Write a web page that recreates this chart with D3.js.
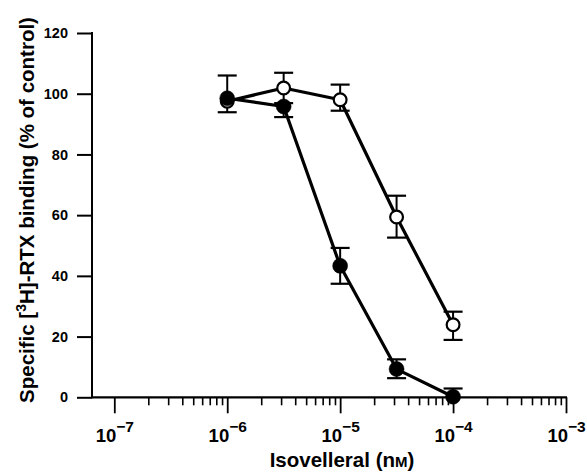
<!DOCTYPE html>
<html>
<head>
<meta charset="utf-8">
<script src="https://cdn.jsdelivr.net/npm/d3@7"></script>
<style>
  html, body { margin: 0; padding: 0; background: #fff; }
  svg { display: block; }
</style>
</head>
<body>
<svg id="chart" width="587" height="472"></svg>
<script>
// ---- data ----
const concentrations = [1e-6, 3.16e-6, 1e-5, 3.16e-5, 1e-4];
const filledValues   = [98.5, 95.8, 43.3, 9.3, 0.2];
const filledErrUp    = [7.5, 0, 5.9, 3.2, 2.7];
const filledErrDown  = [0, 3.5, 5.9, 3.0, 0];
const openValues     = [97.5, 101.9, 98, 59.4, 23.9];
const openErrUp      = [0, 5.0, 5.0, 7.0, 4.3];
const openErrDown    = [3.6, 5.0, 3.6, 6.8, 5.0];
const yTicks = [0, 20, 40, 60, 80, 100, 120];
const xMajorExponents = [-7, -6, -5, -4, -3];
const xMinorMultipliers = [2, 3, 4, 5, 6, 7, 8, 9];
const yTitleMain = ["Specific [", "3", "H]-RTX binding (% of control)"];
const xTitleParts = ["Isovelleral (n", "M", ")"];

// ---- layout ----
const svg = d3.select("#chart");
const plotLeft = 92, plotTop = 33, plotBottom = 397.3;
const x = d3.scaleLog().domain([1e-7, 1e-3]).range([114.3, 566]);
const y = d3.scaleLinear().domain([0, 120]).range([plotBottom, plotTop]);

const font = "'Liberation Sans', Arial, Helvetica, sans-serif";
const narrow = "'Liberation Sans Narrow', 'Liberation Sans', Arial, sans-serif";

// y axis
const yAxis = d3.axisLeft(y).tickValues(yTicks).tickSize(15).tickPadding(9).tickFormat(d3.format("d"));
const gy = svg.append("g").attr("transform", `translate(${plotLeft},0)`).call(yAxis);
gy.select(".domain").remove();
gy.selectAll(".tick line").attr("stroke", "#000").attr("stroke-width", 2);
gy.selectAll(".tick text").attr("font-family", font).attr("font-weight", "bold").attr("font-size", 14.5).attr("fill", "#000");
svg.append("line").attr("x1", plotLeft).attr("x2", plotLeft).attr("y1", y(120) - 1).attr("y2", plotBottom + 1)
  .attr("stroke", "#000").attr("stroke-width", 2);

// x axis
const majors = xMajorExponents.map(e => Math.pow(10, e));
const minors = [];
xMajorExponents.slice(0, -1).forEach(e => xMinorMultipliers.forEach(m => minors.push(m * Math.pow(10, e))));

svg.append("line").attr("x1", plotLeft).attr("x2", x(1e-3) + 1).attr("y1", plotBottom).attr("y2", plotBottom)
  .attr("stroke", "#000").attr("stroke-width", 2.2);

const gxMinor = svg.append("g").attr("transform", `translate(0,${plotBottom})`)
  .call(d3.axisBottom(x).tickValues(minors).tickSize(8).tickFormat(""));
gxMinor.select(".domain").remove();
gxMinor.selectAll(".tick line").attr("stroke", "#000").attr("stroke-width", 1.6);

const gxMajor = svg.append("g").attr("transform", `translate(0,${plotBottom})`)
  .call(d3.axisBottom(x).tickValues(majors).tickSize(16).tickFormat(""));
gxMajor.select(".domain").remove();
gxMajor.selectAll(".tick line").attr("stroke", "#000").attr("stroke-width", 1.8);

gxMajor.selectAll(".tick").each(function(d) {
  const e = Math.round(Math.log10(d));
  const t = d3.select(this).append("text")
    .attr("x", 0).attr("y", 44.4)
    .attr("text-anchor", "middle")
    .attr("font-family", narrow).attr("font-weight", "bold")
    .attr("font-size", 18.5).attr("fill", "#000");
  t.append("tspan").text("10");
  t.append("tspan").attr("font-size", 15.5).attr("dy", -10).text("\u2212" + Math.abs(e));
});

// lines
const line = d3.line().x(d => x(d[0])).y(d => y(d[1]));
const openPts = concentrations.map((c, i) => [c, openValues[i]]);
const filledPts = concentrations.map((c, i) => [c, filledValues[i]]);

function drawSeries(pts, errUp, errDown, filled) {
  svg.append("path").datum(pts).attr("d", line).attr("fill", "none")
    .attr("stroke", "#000").attr("stroke-width", 3.2).attr("stroke-linejoin", "round");
  const g = svg.append("g");
  pts.forEach((p, i) => {
    const cx = x(p[0]);
    const ends = [];
    if (errUp[i] > 0) ends.push(p[1] + errUp[i]);
    if (errDown[i] > 0) ends.push(p[1] - errDown[i]);
    ends.forEach(v => {
      g.append("line").attr("x1", cx).attr("x2", cx).attr("y1", y(p[1])).attr("y2", y(v))
        .attr("stroke", "#000").attr("stroke-width", 2);
      g.append("line").attr("x1", cx - 9.5).attr("x2", cx + 9.5).attr("y1", y(v)).attr("y2", y(v))
        .attr("stroke", "#000").attr("stroke-width", 2.2);
    });
  });
  g.selectAll("circle").data(pts).join("circle")
    .attr("cx", d => x(d[0])).attr("cy", d => y(d[1]))
    .attr("r", filled ? 7.5 : 6.4)
    .attr("fill", filled ? "#000" : "#fff")
    .attr("stroke", "#000").attr("stroke-width", filled ? 0.5 : 2.2);
}
drawSeries(openPts, openErrUp, openErrDown, false);
drawSeries(filledPts, filledErrUp, filledErrDown, true);

// axis titles
const yt = svg.append("text")
  .attr("transform", `translate(34,${(10 + 410) / 2}) rotate(-90)`)
  .attr("text-anchor", "middle")
  .attr("font-family", font).attr("font-weight", "bold").attr("font-size", 20.5).attr("fill", "#000");
yt.append("tspan").text(yTitleMain[0]);
yt.append("tspan").attr("font-size", 14).attr("dy", -8).text(yTitleMain[1]);
yt.append("tspan").attr("dy", 8).text(yTitleMain[2]);

const xt = svg.append("text")
  .attr("x", 342).attr("y", 467)
  .attr("text-anchor", "middle")
  .attr("font-family", font).attr("font-weight", "bold").attr("font-size", 20.5).attr("fill", "#000");
xt.append("tspan").text(xTitleParts[0]);
xt.append("tspan").attr("font-size", 15).text(xTitleParts[1]);
xt.append("tspan").text(xTitleParts[2]);
</script>
</body>
</html>
